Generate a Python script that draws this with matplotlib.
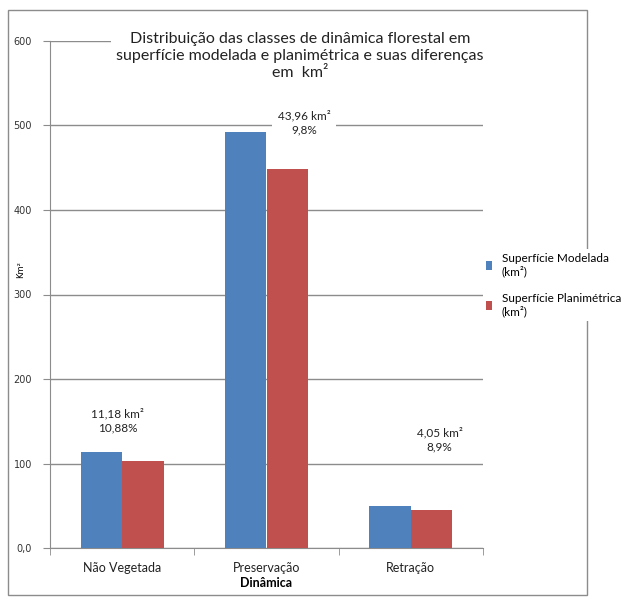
import matplotlib
matplotlib.use("Agg")
import matplotlib.pyplot as plt
from matplotlib.patches import Rectangle
import numpy as np

categories = ["Não Vegetada", "Preservação", "Retração"]
modelada = [113.94, 492.56, 49.55]
planimetrica = [102.76, 448.60, 45.50]
diff_labels = ["11,18 km²\n10,88%", "43,96 km²\n9,8%", "4,05 km²\n8,9%"]
yticks = [0, 100, 200, 300, 400, 500, 600]
ytick_labels = ["0,0", "100", "200", "300", "400", "500", "600"]
series_names = ["Superfície Modelada\n(km²)", "Superfície Planimétrica\n(km²)"]
title = "Distribuição das classes de dinâmica florestal em\nsuperfície modelada e planimétrica e suas diferenças\nem  km²"

blue = "#4f81bd"
red = "#c0504d"
grid_c = "#8c8c8c"
font = "Lato"

fig = plt.figure(figsize=(6.27, 5.97), dpi=100)
fig.patch.set_facecolor("white")

# outer border
fig.patches.append(Rectangle((8/627, 1 - 595/597), (587-8)/627, (595-10)/597,
                             transform=fig.transFigure, fill=False,
                             edgecolor=grid_c, linewidth=1.0, zorder=0))

ax = fig.add_axes([50/627, 49/597, 433/627, 507/597])
x = np.arange(len(categories))
w = 0.288
ax.bar(x - w/2, modelada, w, color=blue, label=series_names[0], zorder=3)
ax.bar(x + w/2, planimetrica, w, color=red, label=series_names[1], zorder=3)

ax.set_xlim(-0.5, 2.5)
ax.set_ylim(0, 600)
ax.set_yticks(yticks)
ax.set_yticklabels(ytick_labels, fontsize=7, family="DejaVu Sans", color="#333333")
ax.yaxis.grid(True, color=grid_c, linewidth=1.0, zorder=1)
ax.set_axisbelow(True)
for s in ["top", "right"]:
    ax.spines[s].set_visible(False)
for s in ["left", "bottom"]:
    ax.spines[s].set_color(grid_c)
ax.tick_params(axis="y", length=5, color=grid_c, pad=8)
ax.set_xticks(x)
ax.set_xticklabels(categories, fontsize=9, family=font, color="#222222")
ax.tick_params(axis="x", length=0, pad=10)
ax.set_xticks([-0.5, 0.5, 1.5, 2.5], minor=True)
ax.tick_params(axis="x", which="minor", length=5, color=grid_c)
ax.set_xlabel("Dinâmica", fontsize=9, family=font, fontweight="bold", labelpad=2)
ax.set_ylabel("Km²", fontsize=6, family="DejaVu Sans")
ax.yaxis.set_label_coords(-0.058, 0.55)

# difference annotations
ann_x = [-0.03, 1.26, 2.2]
ann_y = [151, 503, 128]
for xi, lab, yy in zip(ann_x, diff_labels, ann_y):
    ax.text(xi, yy, lab, ha="center", va="center",
            fontsize=8.5, family=font, color="#222222", linespacing=1.35,
            bbox=dict(facecolor="white", edgecolor="none", pad=4), zorder=2)

# title
fig.text(300/627, 1 - 56/597, title, ha="center", va="center", fontsize=11.5,
         family=font, color="#222222", linespacing=1.27,
         bbox=dict(facecolor="white", edgecolor="none", pad=4), zorder=5)

leg = fig.legend(loc="center left", bbox_to_anchor=(477/627, 1 - 285/597),
                 frameon=True, prop={"family": font, "size": 8.5},
                 handlelength=0.5, handleheight=0.9, handletextpad=0.8,
                 labelspacing=1.3, borderpad=0.3)
leg.get_frame().set_edgecolor("none")
leg.get_frame().set_facecolor("white")
leg.get_frame().set_alpha(1)

fig.savefig("out.png", dpi=100, facecolor="white")
